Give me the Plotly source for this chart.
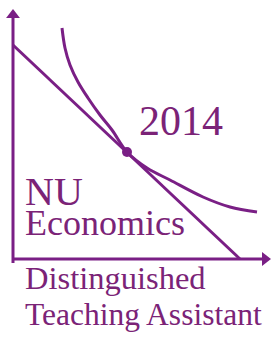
import plotly.graph_objects as go

# Economic-diagram data (units: goods X and Y)
budget_x = [0, 227]
budget_y = [214, 0]
curve_x = [49, 52, 57, 65, 75, 87, 99, 114, 134, 157, 190, 217, 244]
curve_y = [231, 211, 194, 177, 161, 144, 129, 107, 91, 79, 62, 52, 47]
tangent_x = [114]
tangent_y = [107]
yaxis_x = [0, 0]
yaxis_y = [-4, 244]
xaxis_x = [0, 252]
xaxis_y = [0, 0]

year = "2014"
title1 = "NU"
title2 = "Economics"
sub1 = "Distinguished"
sub2 = "Teaching Assistant"

LINE = "#7A1F85"
TEXT = "#7B2377"
FONT = "Liberation Serif, Times New Roman, serif"

fig = go.Figure()
fig.add_trace(go.Scatter(x=yaxis_x, y=yaxis_y, mode="lines", line=dict(color=LINE, width=3), hoverinfo="skip"))
fig.add_trace(go.Scatter(x=xaxis_x, y=xaxis_y, mode="lines", line=dict(color=LINE, width=3), hoverinfo="skip"))
fig.add_trace(go.Scatter(x=[yaxis_x[1]], y=[yaxis_y[1]], mode="markers",
                         marker=dict(symbol="triangle-up", size=12, color=LINE), hoverinfo="skip"))
fig.add_trace(go.Scatter(x=[xaxis_x[1]], y=[xaxis_y[1]], mode="markers",
                         marker=dict(symbol="triangle-right", size=12, color=LINE), hoverinfo="skip"))
fig.add_trace(go.Scatter(x=budget_x, y=budget_y, mode="lines", line=dict(color=LINE, width=3), hoverinfo="skip"))
fig.add_trace(go.Scatter(x=curve_x, y=curve_y, mode="lines",
                         line=dict(color=LINE, width=3, shape="spline", smoothing=1.0), hoverinfo="skip"))
fig.add_trace(go.Scatter(x=tangent_x, y=tangent_y, mode="markers", marker=dict(size=10, color=LINE), hoverinfo="skip"))

def txt(s, x, y, size):
    fig.add_annotation(x=x, y=y, text=s, showarrow=False, xanchor="left", yanchor="middle",
                       font=dict(family=FONT, size=size, color=TEXT), borderpad=0)

txt(year, 125, 138, 42)
txt(title1, 11, 68, 40)
txt(title2, 11, 36, 36)
txt(sub1, 11, -19, 32.5)
txt(sub2, 11, -55, 31.5)

fig.update_layout(width=278, height=337, margin=dict(l=0, r=0, t=0, b=0),
                  paper_bgcolor="white", plot_bgcolor="white", showlegend=False,
                  xaxis=dict(range=[-13, 265], visible=False, fixedrange=True),
                  yaxis=dict(range=[-78, 259], visible=False, fixedrange=True))
fig.write_html("out.html", config={"displayModeBar": False},
               post_script="document.body.style.margin='0';document.body.style.overflow='hidden';")
